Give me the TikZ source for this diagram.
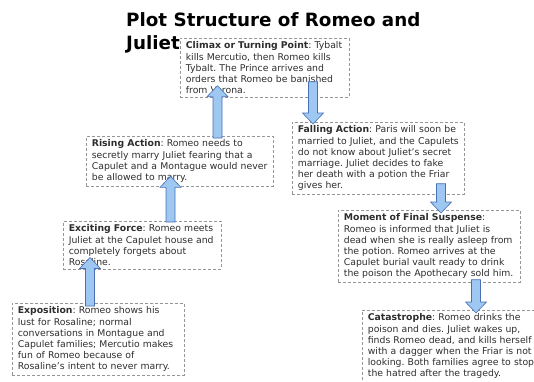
\documentclass[tikz,border=0pt]{standalone}
\usepackage{fontspec}
\setmainfont{DejaVu Sans}
\usetikzlibrary{calc}
\frenchspacing
\definecolor{arrowfill}{RGB}{158,200,242}
\definecolor{arrowline}{RGB}{72,112,178}
\definecolor{boxline}{RGB}{150,150,150}
\definecolor{plottext}{RGB}{45,45,45}

% vertical block arrow from tail #1 to tip #2
\newcommand{\blockarrow}[2]{%
  \draw[blockarr] let \p1=(#1), \p2=(#2), \n1={ifthenelse(\y2>\y1,11,-11)} in
    (\x1-4.5pt,\y1) -- (\x1-4.5pt,{\y2-\n1*1pt}) -- (\x1-10.5pt,{\y2-\n1*1pt})
    -- (\x1,\y2) -- (\x1+10.5pt,{\y2-\n1*1pt}) -- (\x1+4.5pt,{\y2-\n1*1pt})
    -- (\x1+4.5pt,\y1) -- cycle;}

\begin{document}
\begin{tikzpicture}[x=1pt, y=-1pt, font=\fontsize{9.3}{11.2}\selectfont,
        stage/.style={draw=boxline, dashed, dash pattern=on 3pt off 2pt, line width=0.7pt,
                      anchor=north west, align=left, inner xsep=5.5pt, inner ysep=3.5pt,
                      text=plottext},
        blockarr/.style={draw=arrowline, fill=arrowfill, line width=0.6pt}
    ]
        \useasboundingbox (0,0) rectangle (534,381);
        \clip (0,0) rectangle (534,381);

        \node[font=\bfseries\fontsize{18.3}{23}\selectfont, anchor=north west, inner sep=0,
              align=left] (title) at (126,12.8) {Plot Structure of Romeo and\\Juliet};

        \node[stage, text width=158pt] (climax) at (180,38)
            {\textbf{Climax or Turning Point}: Tybalt\\kills Mercutio, then Romeo kills\\Tybalt. The Prince arrives and\\orders that Romeo be banished\\from Verona.};
        \node[stage, text width=161pt] (falling) at (292,122)
            {\textbf{Falling Action}: Paris will soon be\\married to Juliet, and the Capulets\\do not know about Juliet’s secret\\marriage. Juliet decides to fake\\her death with a potion the Friar\\gives her.};
        \node[stage, text width=176pt] (rising) at (86,136)
            {\textbf{Rising Action}: Romeo needs to\\secretly marry Juliet fearing that a\\Capulet and a Montague would never\\be allowed to marry.};
        \node[stage, text width=147pt] (excite) at (63,221)
            {\textbf{Exciting Force}: Romeo meets\\Juliet at the Capulet house and\\completely forgets about\\Rosaline.};
        \node[stage, text width=161pt] (expo) at (12,303)
            {\textbf{Exposition}: Romeo shows his\\lust for Rosaline; normal\\conversations in Montague and\\Capulet families; Mercutio makes\\fun of Romeo because of\\Rosaline’s intent to never marry.};
        \node[stage, text width=171pt] (moment) at (338,210)
            {\textbf{Moment of Final Suspense}:\\Romeo is informed that Juliet is\\dead when she is really asleep from\\the potion. Romeo arrives at the\\Capulet burial vault ready to drink\\the poison the Apothecary sold him.};
        \node[stage, text width=172pt] (catas) at (362,310)
            {\textbf{Catastrophe}: Romeo drinks the\\poison and dies. Juliet wakes up,\\finds Romeo dead, and kills herself\\with a dagger when the Friar is not\\looking. Both families agree to stop\\the hatred after the tragedy.};

        % arrow ends
        \coordinate (expo-out)    at ($(expo.north west)+(78,3)$);
        \coordinate (excite-in)   at ($(excite.south west)+(27,-12)$);
        \coordinate (excite-out)  at ($(excite.north west)+(107.5,1)$);
        \coordinate (rising-in)   at ($(rising.south west)+(84.5,-10)$);
        \coordinate (rising-out)  at ($(rising.north west)+(131.5,2)$);
        \coordinate (climax-in)   at ($(climax.south west)+(37.5,-12)$);
        \coordinate (climax-out)  at ($(climax.south west)+(133,-16)$);
        \coordinate (falling-in)  at ($(falling.north west)+(21,2)$);
        \coordinate (falling-out) at ($(falling.south west)+(149,-11)$);
        \coordinate (moment-in)   at ($(moment.north west)+(103,3)$);
        \coordinate (moment-out)  at ($(moment.south west)+(138,-3)$);
        \coordinate (catas-in)    at ($(catas.north west)+(114,3)$);

        \blockarrow{expo-out}{excite-in}
        \blockarrow{excite-out}{rising-in}
        \blockarrow{rising-out}{climax-in}
        \blockarrow{climax-out}{falling-in}
        \blockarrow{falling-out}{moment-in}
        \blockarrow{moment-out}{catas-in}
    \end{tikzpicture}
\end{document}
